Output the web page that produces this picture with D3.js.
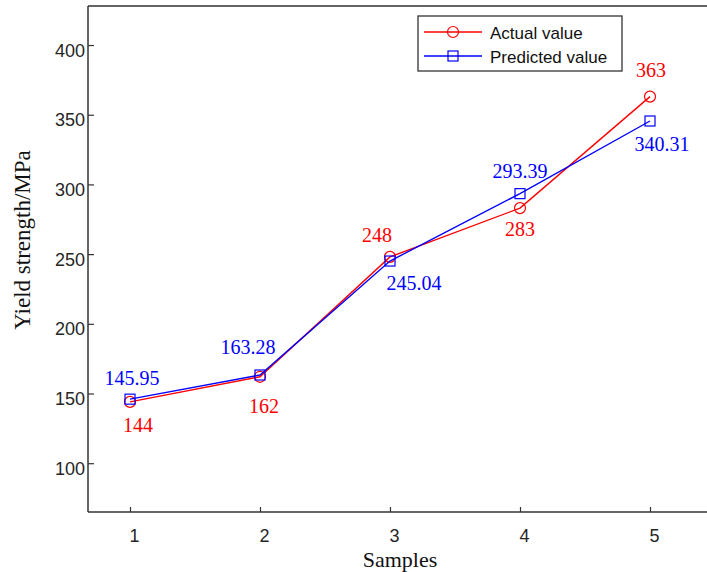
<!DOCTYPE html>
<html>
<head>
<meta charset="utf-8">
<script src="https://cdn.jsdelivr.net/npm/d3@7"></script>
<style>
  html, body { margin: 0; padding: 0; background: #fff; }
  svg { display: block; }
</style>
</head>
<body>
<svg id="chart" width="707" height="572"></svg>
<script>
// ---- data ----
const samples = [1, 2, 3, 4, 5];
const actualValues = [144, 162, 248, 283, 363];
const predictedValues = [145.95, 163.28, 245.04, 293.39, 345.5]; // plotted marker positions
const actualLabels = ["144", "162", "248", "283", "363"];
const predictedLabels = ["145.95", "163.28", "245.04", "293.39", "340.31"];
const yTicks = [100, 150, 200, 250, 300, 350, 400];
const xTicks = [1, 2, 3, 4, 5];
const seriesNames = ["Actual value", "Predicted value"];

// ---- layout (positions / styles) ----
const actualLabelOffsets = [[8, 30], [4, 36], [-13, -15], [0, 28], [1, -20]];
const predictedLabelOffsets = [[2, -14], [-12, -21], [24, 29], [0, -16], [12, 30]];
const RED = "#ff0000", BLUE = "#0000ff", AXIS = "#333333", TXT = "#262626";
const pLeft = 88, pRight = 720, pTop = 6, pBottom = 512;

const svg = d3.select("#chart");
const x = d3.scaleLinear().domain([1, 5]).range([130, 650]);
const y = d3.scaleLinear().domain([65, 428]).range([pBottom, pTop]);

// frame (top / right; right is outside view)
svg.append("path")
  .attr("d", `M${pLeft},${pTop}H${pRight}V${pBottom}`)
  .attr("fill", "none").attr("stroke", AXIS).attr("stroke-width", 1.5);

// axes
const yAxis = d3.axisLeft(y).tickValues(yTicks).tickFormat(d3.format("d"))
  .tickSizeInner(-6).tickSizeOuter(0).tickPadding(3);
const gy = svg.append("g").attr("transform", `translate(${pLeft},0)`).call(yAxis);
const xAxis = d3.axisBottom(x).tickValues(xTicks).tickFormat(d3.format("d"))
  .tickSizeInner(-5).tickSizeOuter(0).tickPadding(0);
const gx = svg.append("g").attr("transform", `translate(0,${pBottom})`).call(xAxis);
gx.select(".domain").attr("d", `M${pLeft},0H${pRight}`);
gy.select(".domain").attr("d", `M0,${pTop}V${pBottom}`);
[gy, gx].forEach(g => {
  g.select(".domain").attr("stroke", AXIS).attr("stroke-width", 1.5);
  g.selectAll(".tick line").attr("stroke", AXIS).attr("stroke-width", 1.2);
  g.selectAll(".tick text").attr("fill", TXT)
    .style("font-family", "'Liberation Sans', Arial, sans-serif").style("font-size", "18px");
});
gy.selectAll(".tick text").attr("dy", "0.62em").attr("x", -3);
gx.selectAll(".tick text").attr("dy", null).attr("y", 30).attr("dx", 4);

// axis titles
svg.append("text")
  .attr("x", 400).attr("y", 567).attr("text-anchor", "middle")
  .style("font-family", "'Liberation Serif', 'Times New Roman', serif").style("font-size", "22px")
  .attr("fill", "#111").text("Samples");
svg.append("text")
  .attr("transform", "translate(30,240) rotate(-90)").attr("text-anchor", "middle")
  .style("font-family", "'Liberation Serif', 'Times New Roman', serif").style("font-size", "23px")
  .attr("fill", "#111").text("Yield strength/MPa");

// series
const line = d3.line().x(d => x(d[0])).y(d => y(d[1]));
const actual = samples.map((s, i) => [s, actualValues[i]]);
const predicted = samples.map((s, i) => [s, predictedValues[i]]);

svg.append("path").datum(actual).attr("d", line)
  .attr("fill", "none").attr("stroke", RED).attr("stroke-width", 1.4);
svg.selectAll("circle.a").data(actual).enter().append("circle")
  .attr("cx", d => x(d[0])).attr("cy", d => y(d[1])).attr("r", 5.5)
  .attr("fill", "none").attr("stroke", RED).attr("stroke-width", 1.2);

svg.append("path").datum(predicted).attr("d", line)
  .attr("fill", "none").attr("stroke", BLUE).attr("stroke-width", 1.4);
svg.selectAll("rect.p").data(predicted).enter().append("rect")
  .attr("x", d => x(d[0]) - 5).attr("y", d => y(d[1]) - 5)
  .attr("width", 10).attr("height", 10)
  .attr("fill", "none").attr("stroke", BLUE).attr("stroke-width", 1.2);

// value labels
const labelFont = "'Liberation Serif', 'Times New Roman', serif";
svg.selectAll("text.al").data(actual).enter().append("text")
  .attr("x", (d, i) => x(d[0]) + actualLabelOffsets[i][0])
  .attr("y", (d, i) => y(d[1]) + actualLabelOffsets[i][1])
  .attr("text-anchor", "middle").attr("fill", RED)
  .style("font-family", labelFont).style("font-size", "20px")
  .text((d, i) => actualLabels[i]);
svg.selectAll("text.pl").data(predicted).enter().append("text")
  .attr("x", (d, i) => x(d[0]) + predictedLabelOffsets[i][0])
  .attr("y", (d, i) => y(d[1]) + predictedLabelOffsets[i][1])
  .attr("text-anchor", "middle").attr("fill", BLUE)
  .style("font-family", labelFont).style("font-size", "20px")
  .text((d, i) => predictedLabels[i]);

// legend
const lg = svg.append("g");
lg.append("rect").attr("x", 418).attr("y", 16).attr("width", 204).attr("height", 55)
  .attr("fill", "#fff").attr("stroke", AXIS).attr("stroke-width", 1.3);
const colors = [RED, BLUE];
seriesNames.forEach((name, i) => {
  const ly = 32 + i * 24;
  lg.append("line").attr("x1", 424).attr("x2", 482).attr("y1", ly).attr("y2", ly)
    .attr("stroke", colors[i]).attr("stroke-width", 1.3);
  if (i === 0) {
    lg.append("circle").attr("cx", 453).attr("cy", ly).attr("r", 5.5)
      .attr("fill", "none").attr("stroke", colors[i]).attr("stroke-width", 1.2);
  } else {
    lg.append("rect").attr("x", 448).attr("y", ly - 5).attr("width", 10).attr("height", 10)
      .attr("fill", "none").attr("stroke", colors[i]).attr("stroke-width", 1.2);
  }
  lg.append("text").attr("x", 490).attr("y", ly + 6.5)
    .style("font-family", "'Liberation Sans', Arial, sans-serif").style("font-size", "17px")
    .attr("fill", "#111").text(name);
});
</script>
</body>
</html>
